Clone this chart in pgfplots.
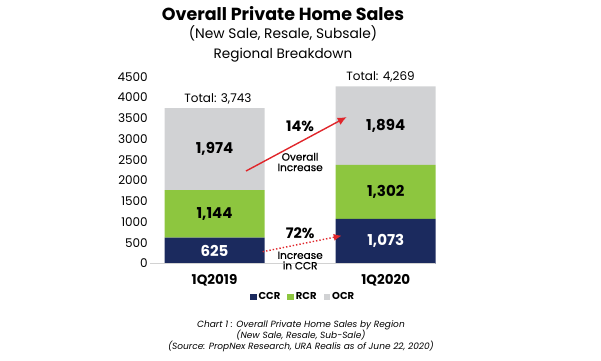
\documentclass[border=0pt]{standalone}
\usepackage{pgfplots}
\pgfplotsset{compat=1.18}
\usepackage{pgfplotstable}
\usetikzlibrary{arrows.meta}
\usepackage{fontspec}
\setmainfont{Poppins}
\newfontfamily\popmed[FakeBold=0.6]{Poppins}
\definecolor{ccr}{HTML}{1B2A5E}
\definecolor{rcr}{HTML}{8DC63F}
\definecolor{ocr}{HTML}{D1D2D4}
\definecolor{arr}{HTML}{E0262B}
\pgfplotstableread{
x ccr rcr ocr
0 625 1144 1974
1 1073 1302 1894
}\sales
\begin{document}
\begin{tikzpicture}
\useasboundingbox (0,0) rectangle (601pt,360pt);
\begin{axis}[
  at={(150.3pt,96.5pt)}, anchor=south west,
  scale only axis, width=286.7pt, height=186.8pt,
  xmin=-0.375, xmax=1.2995, ymin=0, ymax=4500,
  ybar stacked, bar width=100pt,
  clip=false,
  axis line style={draw=none},
  major tick length=0pt,
  xtick={0,1}, xticklabels={1Q2019,1Q2020},
  xticklabel style={font=\fontsize{13.5}{15}\selectfont\bfseries, yshift=-7pt},
  ytick={0,500,...,4500},
  yticklabel style={font=\fontsize{12}{14}\selectfont, xshift=1pt},
  /pgf/number format/assume math mode=true,
  /pgf/number format/1000 sep={},
  legend style={draw=none, at={(0.533,-0.179)}, anchor=center, legend columns=3,
    font=\fontsize{10}{11}\selectfont\bfseries,
    /tikz/every even column/.append style={column sep=5pt}},
  legend image code/.code={\fill[#1] (0pt,-3.3pt) rectangle (6.6pt,3.3pt);},
  point meta=explicit,
  nodes near coords={\pgfmathprintnumber[1000 sep={,}]{\pgfplotspointmeta}},
  every node near coord/.append style={anchor=center, font=\fontsize{15}{17}\selectfont\bfseries},
]
\addplot+[fill=ccr, draw=none,
  every node near coord/.append style={text=white}]
  table[x=x, y=ccr, meta=ccr] {\sales};
\addplot+[fill=rcr, draw=none,
  every node near coord/.append style={text=black}]
  table[x=x, y=rcr, meta=rcr] {\sales};
\addplot+[fill=ocr, draw=none,
  every node near coord/.append style={text=black}]
  table[x=x, y=ocr, meta=ocr] {\sales};
\legend{CCR,RCR,OCR}
\coordinate (b0) at (axis cs:-0.375,0);
\coordinate (b1) at (axis cs:1.29,0);
\coordinate (a1s) at (axis cs:0.184,2228);
\coordinate (a1e) at (axis cs:0.772,3529);
\coordinate (a2s) at (axis cs:0.2815,284);
\coordinate (a2e) at (axis cs:0.743,670);
\coordinate (t14) at (axis cs:0.5,3312);
\coordinate (tov) at (axis cs:0.5,2445);
\coordinate (t72) at (axis cs:0.5,742);
\coordinate (tin) at (axis cs:0.5,72);
\node[font=\fontsize{12}{14}\selectfont] at (axis cs:0.02,3963) {Total: 3,743};
\node[font=\fontsize{12}{14}\selectfont] at (axis cs:0.97,4493) {Total: 4,269};
\node[font=\fontsize{17.5}{19}\selectfont\bfseries] at (axis cs:0.4,6011) {Overall Private Home Sales};
\node[font=\fontsize{13.8}{15}\selectfont] at (axis cs:0.4,5553) {(New Sale, Resale, Subsale)};
\node[font=\fontsize{13.6}{15}\selectfont] at (axis cs:0.4,5023) {Regional Breakdown};
\node[font=\fontsize{9}{10.6}\selectfont\itshape, align=center] at (axis cs:0.505,-1747) {Chart 1 : Overall Private Home Sales by Region\\(New Sale, Resale, Sub-Sale)\\(Source: PropNex Research, URA Realis as of June 22, 2020)};
\end{axis}
\draw[gray!35, line width=1.5pt] (b0) -- (b1);
\draw[arr, line width=1.4pt, -{Latex[length=9pt,width=8pt]}] (a1s) -- (a1e);
\draw[arr, line width=1.4pt, dotted, -{Latex[length=8pt,width=7pt]}] (a2s) -- (a2e);
\node[font=\fontsize{14.5}{16}\selectfont\bfseries] at (t14) {14\%};
\node[font=\fontsize{10.5}{10.5}\popmed, align=center] at (tov) {Overall\\Increase};
\node[font=\fontsize{14.5}{16}\selectfont\bfseries] at (t72) {72\%};
\node[font=\fontsize{10.5}{10.5}\popmed, align=center] at (tin) {Increase\\in CCR};
\end{tikzpicture}
\end{document}
